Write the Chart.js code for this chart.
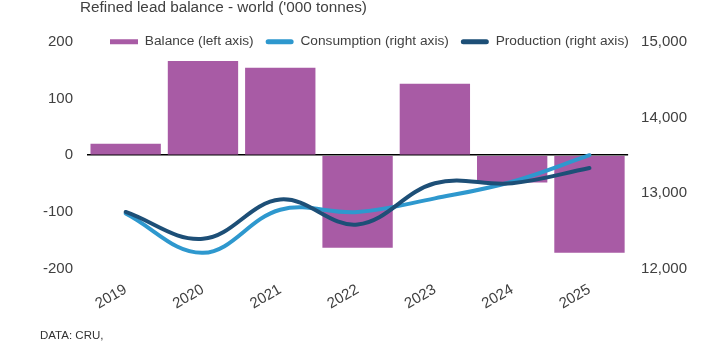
<!DOCTYPE html>
<html><head><meta charset="utf-8">
<script src="https://cdn.jsdelivr.net/npm/chart.js@4.4.0/dist/chart.umd.min.js"></script>
<style>
html,body{margin:0;padding:0;background:#fff;}
#wrap{position:relative;width:725px;height:357px;overflow:hidden;}
#title{position:absolute;left:80px;top:-1px;font-family:"Liberation Sans",Arial,sans-serif;font-size:15.3px;line-height:15px;color:#404040;white-space:nowrap;}
#source{position:absolute;left:40px;top:330px;font-family:"Liberation Sans",Arial,sans-serif;font-size:11.5px;line-height:11.5px;color:#333;white-space:nowrap;}
canvas{position:absolute;left:0;top:0;}
</style></head>
<body><div id="wrap"><canvas id="c" width="725" height="357"></canvas><div id="title">Refined lead balance - world ('000 tonnes)</div><div id="source">DATA: CRU,</div></div>
<script>
const categories = ['2019','2020','2021','2022','2023','2024','2025'];
const balance = [20, 166, 154, -163, 126, -48, -172];
const consumption = [12730, 12210, 12780, 12750, 12930, 13150, 13500];
const production = [12750, 12395, 12915, 12585, 13130, 13130, 13330];
const leftTicks = [-200, -100, 0, 100, 200];
const rightTicks = [12000, 13000, 14000, 15000];
const seriesNames = ['Balance (left axis)', 'Consumption (right axis)', 'Production (right axis)'];

const PURPLE = '#A85BA5', LIGHT = '#2E98CE', DARK = '#1D4F77', TXT = '#404040';
Chart.defaults.font.family = '"Liberation Sans", Arial, sans-serif';
Chart.defaults.font.size = 15;
Chart.defaults.color = TXT;

const legendMover = {
  id: 'legendMover',
  beforeDraw(chart) {
    const lg = chart.legend;
    if (!lg) return;
    const h = lg.bottom - lg.top;
    lg.left = 98; lg.right = 725;
    lg.top = chart.chartArea.top - 12 - 6.85; lg.bottom = lg.top + h;
  }
};

new Chart(document.getElementById('c'), {
  data: {
    labels: categories,
    datasets: [
      { type: 'bar', label: seriesNames[0], data: balance, backgroundColor: PURPLE, yAxisID: 'y', order: 3,
        categoryPercentage: 1, barPercentage: 0.91 },
      { type: 'line', label: seriesNames[1], data: consumption, borderColor: LIGHT, backgroundColor: LIGHT,
        borderWidth: 4, pointRadius: 0, tension: 0.38, yAxisID: 'y2', order: 2, borderCapStyle: 'round' },
      { type: 'line', label: seriesNames[2], data: production, borderColor: DARK, backgroundColor: DARK,
        borderWidth: 4, pointRadius: 0, tension: 0.38, yAxisID: 'y2', order: 1, borderCapStyle: 'round' }
    ]
  },
  options: {
    responsive: false, animation: false, devicePixelRatio: 1,
    layout: { padding: { top: 6, left: 29, right: 25, bottom: 40 } },
    plugins: {
      tooltip: { enabled: false },
      legend: {
        display: true, position: 'top', align: 'start',
        labels: {
          boxWidth: 28, boxHeight: 5, padding: 12, useBorderRadius: true,
          font: { size: 13.7 }, color: TXT,
          generateLabels: chart => chart.data.datasets.map((ds, i) => ({
            text: ds.label, fillStyle: ds.type === 'line' ? ds.borderColor : ds.backgroundColor,
            strokeStyle: 'rgba(0,0,0,0)', lineWidth: 0, hidden: false, datasetIndex: i,
            borderRadius: ds.type === 'line' ? 2.5 : 0, fontColor: TXT
          }))
        }
      }
    },
    scales: {
      x: {
        offset: true,
        grid: { display: false }, border: { display: false },
        ticks: { minRotation: 30, maxRotation: 30, padding: 4, color: TXT, font: { size: 15 } }
      },
      y: {
        position: 'left', min: -200, max: 200,
        afterBuildTicks: s => { s.ticks = leftTicks.map(v => ({ value: v })); },
        grid: { drawTicks: false, lineWidth: 1.5, color: c => (c.tick && c.tick.value === 0) ? '#000' : 'rgba(0,0,0,0)' },
        border: { display: false },
        ticks: { padding: 14, color: TXT, font: { size: 15 } }
      },
      y2: {
        position: 'right', min: 12000, max: 15000,
        afterBuildTicks: s => { s.ticks = rightTicks.map(v => ({ value: v })); },
        grid: { display: false, drawTicks: false }, border: { display: false },
        ticks: { padding: 13, color: TXT, font: { size: 15 }, callback: v => v.toLocaleString('en-US') }
      }
    }
  },
  plugins: [legendMover]
});
</script>
</body></html>
